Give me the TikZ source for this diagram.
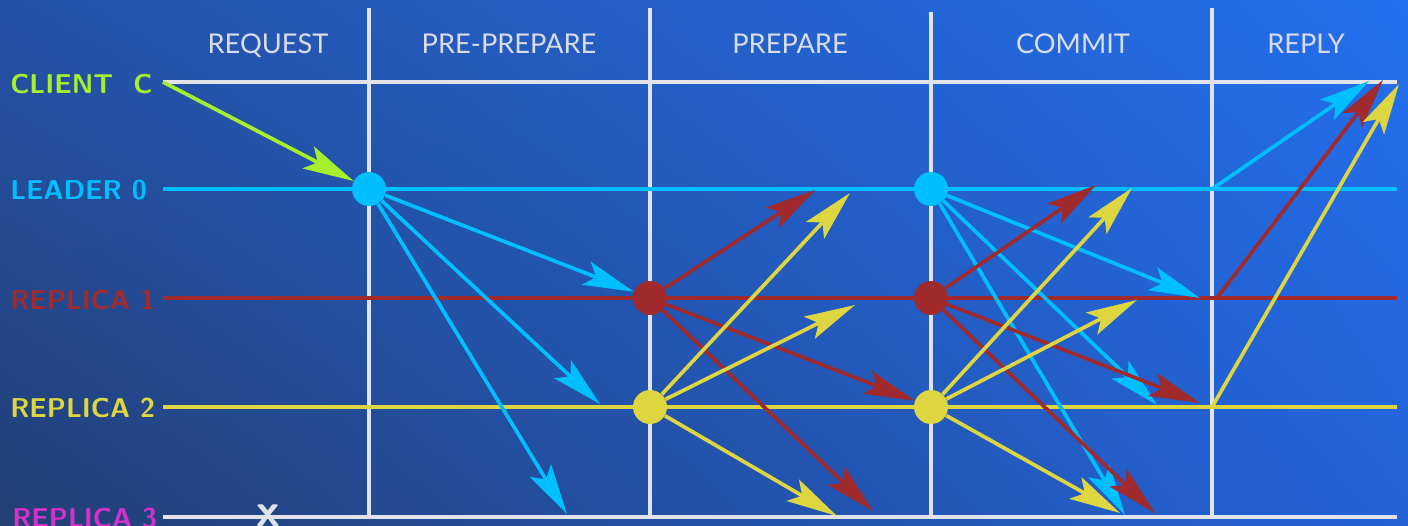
\documentclass[tikz,border=0pt]{standalone}
\usepackage{fontspec}
\usetikzlibrary{arrows.meta,shadings}

\newfontfamily\phasefont{Lato}

\definecolor{bgul}{RGB}{36,82,168}
\definecolor{bgur}{RGB}{35,111,238}
\definecolor{bgll}{RGB}{35,63,116}
\definecolor{bglr}{RGB}{35,99,216}
\definecolor{gridcol}{RGB}{226,226,234}
\definecolor{phasecol}{RGB}{218,220,232}
\definecolor{clientcol}{RGB}{164,240,44}
\definecolor{leadercol}{RGB}{0,191,255}
\definecolor{replonecol}{RGB}{160,42,44}
\definecolor{repltwocol}{RGB}{222,214,64}
\definecolor{replthreecol}{RGB}{212,48,204}

\tikzset{
  phaseline/.style={line width=2.3pt, draw=gridcol},
  lane/.style={line width=2.4pt},
  msg/.style={line width=2.1pt, -{Stealth[length=29pt,width=14pt,inset=6pt]}},
  dot/.style={circle, minimum size=0.68cm, inner sep=0pt},
  lanelabel/.style={anchor=west, inner sep=0pt, font=\fontsize{15.5}{18}\sffamily\bfseries},
  phase/.style={anchor=base, font=\fontsize{15.5}{18}\phasefont, text=phasecol},
}

\begin{document}
\begin{tikzpicture}[x=0.02cm, y=-0.02cm]
  \useasboundingbox (0,0) rectangle (1408,526);
  \shade[upper left=bgul, upper right=bgur, lower left=bgll, lower right=bglr]
    (0,0) rectangle (1408,526);

  % phases
  \node[phase] (request) at (268,54) {REQUEST};
  \node[phase] (preprepare) at (509,54) {PRE-PREPARE};
  \node[phase] (prepare) at (790,54) {PREPARE};
  \node[phase] (commit) at (1073,54) {COMMIT};
  \node[phase] (reply) at (1306,54) {REPLY};

  \draw[phaseline] (369,8) -- (369,517);
  \draw[phaseline] (650,8) -- (650,517);
  \draw[phaseline] (931,12) -- (931,517);
  \draw[phaseline] (1212,8) -- (1212,517);

  % lanes
  \node[lanelabel, text=clientcol] (client) at (10,84) {CLIENT~~C};
  \node[lanelabel, text=leadercol] (leader) at (10,190) {LEADER 0};
  \node[lanelabel, text=replonecol] (replone) at (10,300) {REPLICA 1};
  \node[lanelabel, text=repltwocol] (repltwo) at (10,408) {REPLICA 2};
  \node[lanelabel, text=replthreecol] (replthree) at (12,518) {REPLICA 3};

  \draw[lane, gridcol] (163,82) -- (1397,82);
  \draw[lane, leadercol] (163,189) -- (1397,189);
  \draw[lane, replonecol] (163,298) -- (1397,298);
  \draw[lane, repltwocol] (163,407) -- (1397,407);
  \draw[lane, gridcol] (163,517) -- (1397,517);
  \node[text=gridcol, font=\fontsize{27}{27}\sffamily\bfseries] (crash) at (268,516) {x};

  % replicas taking part
  \node[dot, fill=leadercol] (pp0) at (369,189) {};
  \node[dot, fill=replonecol] (p1) at (650,298) {};
  \node[dot, fill=repltwocol] (p2) at (650,407) {};
  \node[dot, fill=leadercol] (c0) at (931,189) {};
  \node[dot, fill=replonecol] (c1) at (931,298) {};
  \node[dot, fill=repltwocol] (c2) at (931,407) {};

  \coordinate (cli) at (163,82);
  \coordinate (pp2) at (600,404);
  \coordinate (pp3) at (567,514);
  \coordinate (pr0) at (815,190);
  \coordinate (pr3) at (873,511);
  \coordinate (py0) at (850,193);
  \coordinate (py1) at (855,305);
  \coordinate (py3) at (837,516);
  \coordinate (cm1) at (1200,298);
  \coordinate (cm2) at (1157,405);
  \coordinate (cm3) at (1125,515);
  \coordinate (cr0) at (1096,185);
  \coordinate (cr2) at (1200,403);
  \coordinate (cr3) at (1155,513);
  \coordinate (cy0) at (1132,188);
  \coordinate (cy1) at (1137,300);
  \coordinate (cy3) at (1120,513);
  \coordinate (rp0) at (1212,189);
  \coordinate (rp1) at (1217,298);
  \coordinate (rp2) at (1212,407);
  \coordinate (rc0) at (1369,81);
  \coordinate (rc1) at (1383,80);
  \coordinate (rc2) at (1399,84);

  % request and pre-prepare
  \draw[msg, clientcol] (cli) -- (pp0);
  \draw[msg, leadercol] (pp0) -- (p1);
  \draw[msg, leadercol] (pp0) -- (pp2);
  \draw[msg, leadercol] (pp0) -- (pp3);

  % prepare
  \draw[msg, replonecol] (p1) -- (pr0);
  \draw[msg, replonecol] (p1) -- (c2);
  \draw[msg, replonecol] (p1) -- (pr3);
  \draw[msg, repltwocol] (p2) -- (py0);
  \draw[msg, repltwocol] (p2) -- (py1);
  \draw[msg, repltwocol] (p2) -- (py3);

  % commit
  \draw[msg, leadercol] (c0) -- (cm1);
  \draw[msg, leadercol] (c0) -- (cm2);
  \draw[msg, leadercol] (c0) -- (cm3);
  \draw[msg, replonecol] (c1) -- (cr0);
  \draw[msg, replonecol] (c1) -- (cr2);
  \draw[msg, replonecol] (c1) -- (cr3);
  \draw[msg, repltwocol] (c2) -- (cy0);
  \draw[msg, repltwocol] (c2) -- (cy1);
  \draw[msg, repltwocol] (c2) -- (cy3);

  % reply
  \draw[msg, leadercol] (rp0) -- (rc0);
  \draw[msg, replonecol] (rp1) -- (rc1);
  \draw[msg, repltwocol] (rp2) -- (rc2);
\end{tikzpicture}
\end{document}
